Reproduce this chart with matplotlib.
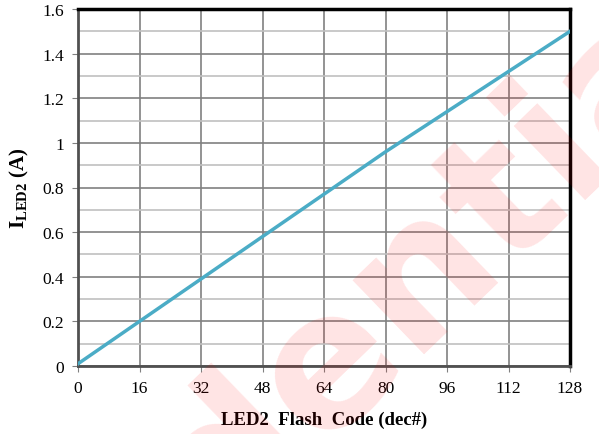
import matplotlib
matplotlib.use("Agg")
import matplotlib.pyplot as plt
import numpy as np

# LED2 flash code vs current
flash_code = [0, 16, 32, 48, 64, 80, 96, 112, 128]
i_led2 = [0.01, 0.2, 0.39, 0.58, 0.77, 0.96, 1.14, 1.32, 1.5]

x_ticks = [0, 16, 32, 48, 64, 80, 96, 112, 128]
y_ticks = [0, 0.2, 0.4, 0.6, 0.8, 1.0, 1.2, 1.4, 1.6]
y_tick_labels = ["0", "0.2", "0.4", "0.6", "0.8", "1", "1.2", "1.4", "1.6"]

plt.rcParams["font.family"] = "Liberation Serif"
plt.rcParams["mathtext.fontset"] = "custom"
plt.rcParams["mathtext.rm"] = "Liberation Serif"
plt.rcParams["mathtext.bf"] = "Liberation Serif:bold"

fig = plt.figure(figsize=(5.99, 4.35), dpi=100)
ax = fig.add_axes([78 / 599, 1 - 367 / 435, (570 - 78) / 599, (367 - 10) / 435])

ax.plot(flash_code, i_led2, color="#4bacc6", lw=2.5, zorder=3)

ax.set_xlim(0, 128)
ax.set_ylim(0, 1.6)
ax.set_xticks(x_ticks)
ax.set_yticks(y_ticks)
ax.set_yticklabels(y_tick_labels)
ax.set_yticks(np.arange(0.1, 1.6, 0.2), minor=True)

ax.grid(which="major", color="#808080", lw=1.2, zorder=1)
ax.grid(which="minor", axis="y", color="#c0c0c0", lw=1.2, zorder=1)
ax.tick_params(which="major", labelsize=12.5, length=4, color="#808080", pad=6)
ax.tick_params(which="minor", length=0)

for side in ["top", "right"]:
    ax.spines[side].set_color("black")
    ax.spines[side].set_linewidth(2.5)
for side in ["left", "bottom"]:
    ax.spines[side].set_color("#505050")
    ax.spines[side].set_linewidth(2)

ax.set_xlabel("LED2  Flash  Code (dec#)", fontsize=13.5, fontweight="bold", labelpad=11)
ax.set_ylabel(r"$\mathbf{I}_{\mathbf{LED2}}$ (A)", fontsize=15, fontweight="bold", labelpad=8)

# watermark
fig.text(0.43, 0.0, "Confidential", fontsize=135, fontweight="bold", family="DejaVu Sans",
         color="red", alpha=0.11, rotation=44, ha="center", va="center", zorder=10)

fig.savefig("out.png", dpi=100)
